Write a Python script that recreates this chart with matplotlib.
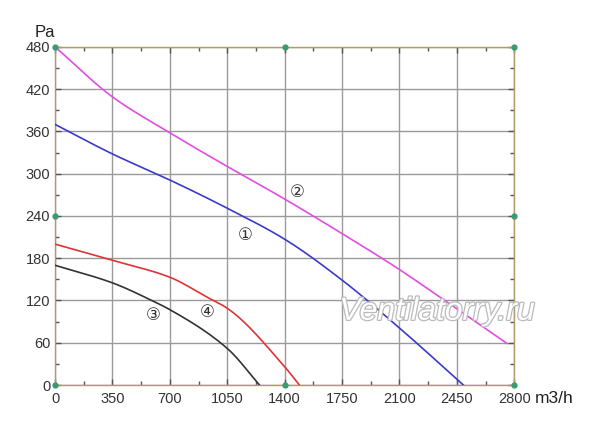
import numpy as np
import matplotlib
matplotlib.use("Agg")
import matplotlib.pyplot as plt
import matplotlib.patheffects as pe
from matplotlib.ticker import MultipleLocator

plt.rcParams['font.family'] = ['Liberation Sans', 'DejaVu Sans']

# curve points (m3/h, Pa)
x1 = [0, 350, 700, 1050, 1400, 1750, 2100, 2490]
y1 = [370, 328, 291, 251, 207, 149, 81, 0]

x2 = [0, 350, 700, 1007, 1400, 1750, 2100, 2227, 2756]
y2 = [480, 409, 358, 316, 264, 215, 164, 144, 59]

x3 = [0, 350, 590, 700, 1050, 1247]
y3 = [170, 145, 120, 107, 52, 0]

x4 = [0, 350, 700, 925, 1050, 1400, 1490]
y4 = [200, 177, 153, 125, 109, 26, 0]

labels = ["①", "②", "③", "④"]
label_x = [1159, 1476, 598, 927]
label_y = [213, 274, 99, 104]

xticks = [0, 350, 700, 1050, 1400, 1750, 2100, 2450, 2800]
yticks = [0, 60, 120, 180, 240, 300, 360, 420, 480]


def smooth(xs, ys, n=200):
    # monotone cubic (Fritsch-Carlson) through the read points, only for drawing
    x = np.asarray(xs, float)
    y = np.asarray(ys, float)
    h = np.diff(x)
    d = np.diff(y) / h
    m = np.zeros_like(y)
    m[0], m[-1] = d[0], d[-1]
    for i in range(1, len(x) - 1):
        if d[i - 1] * d[i] > 0:
            w1 = 2 * h[i] + h[i - 1]
            w2 = h[i] + 2 * h[i - 1]
            m[i] = (w1 + w2) / (w1 / d[i - 1] + w2 / d[i])
    xx = np.linspace(x[0], x[-1], n)
    k = np.clip(np.searchsorted(x, xx) - 1, 0, len(x) - 2)
    t = (xx - x[k]) / h[k]
    h00 = 2 * t**3 - 3 * t**2 + 1
    h10 = t**3 - 2 * t**2 + t
    h01 = -2 * t**3 + 3 * t**2
    h11 = t**3 - t**2
    yy = h00 * y[k] + h10 * h[k] * m[k] + h01 * y[k + 1] + h11 * h[k] * m[k + 1]
    return xx, yy


fig = plt.figure(figsize=(6, 4.26), dpi=100)
ax = fig.add_axes([0.0917, 0.0962, 0.7653, 0.7938])

spine_col = "#b09a6c"
grid_col = "#9a9a9a"

ax.set_xlim(0, 2800)
ax.set_ylim(0, 480)
ax.set_xticks(xticks)
ax.set_yticks(yticks)
ax.xaxis.set_minor_locator(MultipleLocator(175))
ax.yaxis.set_minor_locator(MultipleLocator(30))
ax.grid(True, which="major", color=grid_col, linewidth=1.0)
ax.set_axisbelow(True)
for s in ax.spines.values():
    s.set_color(spine_col)
    s.set_linewidth(1.0)
ax.tick_params(which="both", direction="in", top=True, right=True,
               color="#555555", labelsize=10.5, labelcolor="#333333")
ax.tick_params(which="major", length=4, width=1)
ax.tick_params(which="minor", length=3, width=1)
ax.tick_params(axis="x", pad=5)

for xs, ys, c in [(x2, y2, "#e24de2"), (x1, y1, "#3a3acc"),
                  (x4, y4, "#e03333"), (x3, y3, "#333333")]:
    sx, sy = smooth(xs, ys)
    ax.plot(sx, sy, color=c, lw=1.2, zorder=3)

for t, lx, ly in zip(labels, label_x, label_y):
    ax.text(lx, ly, t, fontsize=12, ha="center", va="center", color="#333333",
            family=["DejaVu Sans", "Noto Sans CJK SC"], zorder=4)

# green markers on the frame
gx = [0, 1400, 2800, 0, 2800, 0, 1400, 2800]
gy = [0, 0, 0, 240, 240, 480, 480, 480]
ax.plot(gx, gy, "o", color="#3a9a70", ms=3.5, ls="none", clip_on=False, zorder=5)

ax.text(0, 1.02, "Pa", transform=ax.transAxes, fontsize=12, ha="right", va="bottom",
        color="#222222")
ax.text(1.045, -0.0165, "m3/h", transform=ax.transAxes, fontsize=12.5, ha="left",
        va="top", color="#222222")

ax.text(2330, 104, "Ventilatorry.ru", fontsize=23, style="italic", ha="center",
        va="center", color="white", zorder=6,
        path_effects=[pe.withStroke(linewidth=1.8, foreground="#bbbbbb")])

fig.savefig("out.png", dpi=100)
